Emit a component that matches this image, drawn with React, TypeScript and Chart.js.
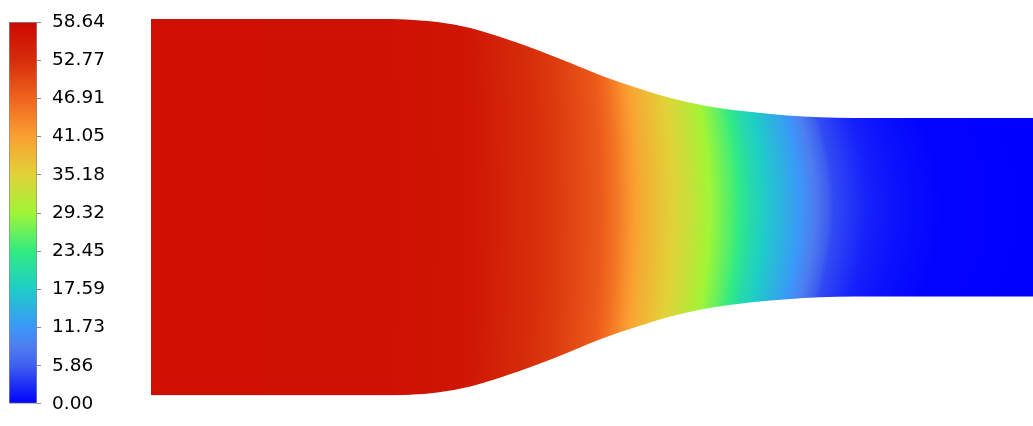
import React, { useEffect, useRef } from 'react';
import { Chart, registerables } from 'chart.js';

Chart.register(...registerables);

// ---- Data ----
const VALUE_MAX = 58.637;
const colorbarTickLabels = ['0.00', '5.86', '11.73', '17.59', '23.45', '29.32', '35.18', '41.05', '46.91', '52.77', '58.64'];

// colormap (fraction of range -> rgb)
const colormapStops = [0, 0.1, 0.15, 0.2, 0.3, 0.4, 0.5, 0.6, 0.7, 0.8, 0.9, 1.0];
const colormapR = [0, 62, 78, 60, 30, 50, 160, 225, 250, 240, 214, 204];
const colormapG = [0, 95, 125, 150, 205, 235, 245, 210, 160, 100, 45, 8];
const colormapB = [255, 240, 240, 250, 200, 130, 55, 55, 50, 30, 10, 0];

// nozzle wall profile (axial position, radius)
const wallX = [0, 2.713, 2.94, 3.246, 3.621, 3.995, 4.381, 4.756, 5.131, 5.516, 5.891, 6.266, 6.652, 7.026, 7.401, 7.775, 8.161, 10];
const wallRadius = [2.139, 2.139, 2.131, 2.105, 2.037, 1.923, 1.787, 1.639, 1.486, 1.355, 1.241, 1.156, 1.099, 1.06, 1.031, 1.017, 1.014, 1.014];

// centreline field values along the axis
const stationX = [0, 2.6, 3.62, 4.11, 4.64, 5.1, 5.24, 5.41, 5.55, 5.86, 6.12, 6.31, 6.61, 6.8, 6.99, 7.33, 7.51, 7.74, 8.13, 8.5, 8.96, 10];
const stationValue = [57.6, 57.3, 56.5, 53.8, 51.2, 48.0, 45.9, 42.5, 39.9, 35.8, 32.7, 29.8, 24.5, 20.1, 17.1, 12.3, 9.0, 4.6, 2.0, 1.0, 0.2, 0.0];

// axial lag of the iso-lines at the wall (relative to the axis)
const skewX = [0, 4.0, 5.5, 7.3, 8.5, 10];
const skewShift = [0.03, 0.05, 0.08, 0.15, 0.25, 0.3];

const X_MIN = 0;
const X_MAX = 10;
const R_MAX = 2.139;

function interp(xs: number[], ys: number[], x: number): number {
  if (x <= xs[0]) return ys[0];
  const n = xs.length;
  if (x >= xs[n - 1]) return ys[n - 1];
  let i = 1;
  while (i < n && xs[i] < x) i++;
  const t = (x - xs[i - 1]) / (xs[i] - xs[i - 1]);
  return ys[i - 1] + t * (ys[i] - ys[i - 1]);
}

function colorAt(f: number): [number, number, number] {
  const t = Math.max(0, Math.min(1, f));
  return [
    Math.round(interp(colormapStops, colormapR, t)),
    Math.round(interp(colormapStops, colormapG, t)),
    Math.round(interp(colormapStops, colormapB, t)),
  ];
}

let fieldCache: { key: string; pattern: CanvasPattern | null } | null = null;

function makeFieldPattern(chart: any): CanvasPattern | string {
  const { chartArea, scales } = chart;
  if (!chartArea) return 'transparent';
  const key = [chartArea.left, chartArea.top, chartArea.right, chartArea.bottom, chart.width, chart.height].join(',');
  if (fieldCache && fieldCache.key === key && fieldCache.pattern) return fieldCache.pattern;
  const xs = scales.x;
  const ys = scales.y;
  const w = chart.width;
  const h = chart.height;
  const off = document.createElement('canvas');
  off.width = w;
  off.height = h;
  const octx = off.getContext('2d')!;
  const img = octx.createImageData(w, h);
  const px0 = Math.max(0, Math.floor(chartArea.left) - 1);
  const px1 = Math.min(w, Math.ceil(chartArea.right) + 1);
  const py0 = Math.max(0, Math.floor(chartArea.top) - 1);
  const py1 = Math.min(h, Math.ceil(chartArea.bottom) + 1);
  for (let px = px0; px < px1; px++) {
    const xv = xs.getValueForPixel(px + 0.5);
    const R = interp(wallX, wallRadius, xv);
    const s = interp(skewX, skewShift, xv);
    for (let py = py0; py < py1; py++) {
      const yv = ys.getValueForPixel(py + 0.5);
      const rr = Math.min(1, Math.abs(yv) / R);
      const v = interp(stationX, stationValue, xv + s * rr * rr);
      const c = colorAt(v / VALUE_MAX);
      const idx = (py * w + px) * 4;
      img.data[idx] = c[0];
      img.data[idx + 1] = c[1];
      img.data[idx + 2] = c[2];
      img.data[idx + 3] = 255;
    }
  }
  octx.putImageData(img, 0, 0);
  const pattern = chart.ctx.createPattern(off, 'no-repeat');
  fieldCache = { key, pattern };
  return pattern || 'transparent';
}

function colorbarGradient(chart: any): CanvasGradient | string {
  const { chartArea, ctx } = chart;
  if (!chartArea) return 'transparent';
  const g = ctx.createLinearGradient(0, chartArea.bottom, 0, chartArea.top);
  colormapStops.forEach((s, i) => {
    g.addColorStop(s, `rgb(${colormapR[i]},${colormapG[i]},${colormapB[i]})`);
  });
  return g;
}

const W = 1033;
const H = 426;
const CB_W = 140;

export default function App() {
  const fieldRef = useRef<HTMLCanvasElement>(null);
  const barRef = useRef<HTMLCanvasElement>(null);

  useEffect(() => {
    const upper = wallX.map((x, i) => ({ x, y: wallRadius[i] }));
    const lower = wallX.map((x, i) => ({ x, y: -wallRadius[i] }));

    const field = new Chart(fieldRef.current!, {
      type: 'line',
      data: {
        datasets: [
          {
            data: upper,
            fill: '+1',
            backgroundColor: (ctx: any) => makeFieldPattern(ctx.chart),
            borderColor: 'transparent',
            borderWidth: 0,
            pointRadius: 0,
            cubicInterpolationMode: 'monotone',
          },
          {
            data: lower,
            fill: false,
            borderColor: 'transparent',
            borderWidth: 0,
            pointRadius: 0,
            cubicInterpolationMode: 'monotone',
          },
        ],
      } as any,
      options: {
        animation: false,
        responsive: false,
        layout: { padding: { left: 151, top: 19, right: 0, bottom: H - 395.5 } },
        scales: {
          x: { type: 'linear', min: X_MIN, max: X_MAX, display: false },
          y: { type: 'linear', min: -R_MAX, max: R_MAX, display: false },
        },
        plugins: { legend: { display: false }, tooltip: { enabled: false } },
        events: [],
      } as any,
    });

    const bar = new Chart(barRef.current!, {
      type: 'bar',
      data: {
        labels: [''],
        datasets: [
          {
            data: [VALUE_MAX],
            backgroundColor: (ctx: any) => colorbarGradient(ctx.chart),
            borderColor: '#8a8a8a',
            borderWidth: 1,
            borderSkipped: false,
            barPercentage: 1,
            categoryPercentage: 1,
          },
        ],
      },
      options: {
        animation: false,
        responsive: false,
        layout: { padding: { left: 9, top: 17.5, right: 0, bottom: H - 411 } },
        scales: {
          x: { display: false },
          y: {
            position: 'right',
            min: 0,
            max: VALUE_MAX,
            afterBuildTicks: (axis: any) => {
              axis.ticks = colorbarTickLabels.map((_, i) => ({ value: (VALUE_MAX * i) / (colorbarTickLabels.length - 1) }));
            },
            afterFit: (axis: any) => {
              axis.width = CB_W - 37;
            },
            grid: { drawOnChartArea: false, drawTicks: true, tickLength: 4, color: '#8a8a8a', lineWidth: 1 },
            border: { display: false },
            ticks: {
              autoSkip: false,
              padding: 11,
              color: '#000',
              font: { family: 'DejaVu Sans', size: 18.5 },
              callback: (_v: any, i: number) => colorbarTickLabels[i],
            },
          },
        },
        plugins: { legend: { display: false }, tooltip: { enabled: false } },
        events: [],
      } as any,
    });

    return () => {
      field.destroy();
      bar.destroy();
    };
  }, []);

  return (
    <div style={{ position: 'absolute', left: 0, top: 0, width: W, height: H, background: '#fff', overflow: 'hidden' }}>
      <canvas ref={fieldRef} width={W} height={H} style={{ position: 'absolute', left: 0, top: 0, width: W, height: H }} />
      <canvas ref={barRef} width={CB_W} height={H} style={{ position: 'absolute', left: 0, top: 0, width: CB_W, height: H }} />
    </div>
  );
}
